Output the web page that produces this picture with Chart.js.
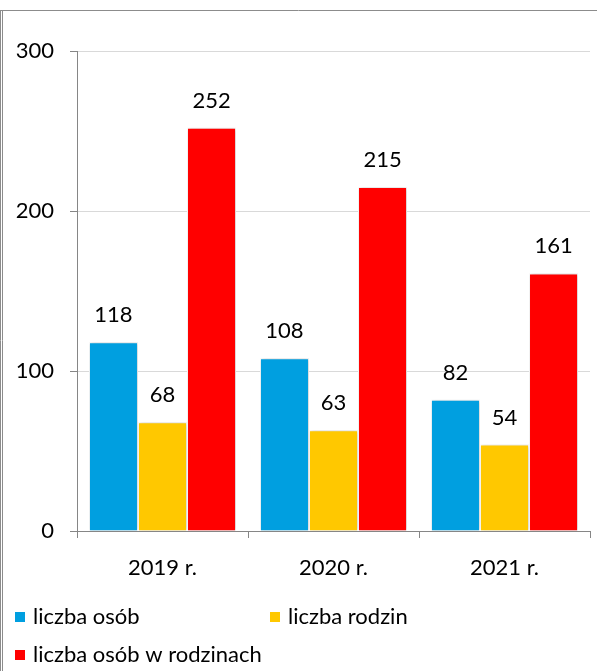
<!DOCTYPE html>
<html>
<head>
<meta charset="utf-8">
<title>Liczba osób i rodzin</title>
<script src="https://cdn.jsdelivr.net/npm/chart.js@4.4.1/dist/chart.umd.min.js"></script>
<style>
  html, body { margin: 0; padding: 0; background: #fff; }
  #wrap { width: 597px; height: 671px; }
</style>
</head>
<body>
<div id="wrap"><canvas id="myChart" width="597" height="671"></canvas></div>
<script>
// data
const years = ['2019 r.', '2020 r.', '2021 r.'];
const osoby = [118, 108, 82];
const rodziny = [68, 63, 54];
const osobyWRodzinach = [252, 215, 161];
const seriesNames = ['liczba osób', 'liczba rodzin', 'liczba osób w rodzinach'];
const colors = ['#009fe0', '#ffc800', '#ff0000'];
const yTicks = [0, 100, 200, 300];

const FONT = 'Lato, "Open Sans", sans-serif';
const FS = 22;

// frame around the picture
const framePlugin = {
  id: 'frame',
  beforeDraw(chart) {
    const c = chart.ctx;
    c.save();
    c.fillStyle = '#fff';
    c.fillRect(0, 0, chart.width, chart.height);
    c.strokeStyle = '#8c8c8c';
    c.lineWidth = 1;
    c.beginPath();
    c.moveTo(0.5, 10); c.lineTo(0.5, chart.height);
    c.moveTo(2.5, 10); c.lineTo(2.5, chart.height);
    c.moveTo(0, 10.5); c.lineTo(chart.width, 10.5);
    c.stroke();
    c.restore();
  }
};

// soft shadow under the bars
const shadowPlugin = {
  id: 'barShadow',
  beforeDatasetsDraw(chart) {
    const c = chart.ctx;
    c.save();
    c.shadowColor = 'rgba(0,0,0,0.22)';
    c.shadowBlur = 4;
    c.shadowOffsetX = 1;
    c.shadowOffsetY = 0;
  },
  afterDatasetsDraw(chart) {
    chart.ctx.restore();
  }
};

// value labels above bars
const valuePlugin = {
  id: 'values',
  afterDatasetsDraw(chart) {
    const c = chart.ctx;
    c.save();
    c.shadowColor = 'transparent';
    c.font = FS + 'px ' + FONT;
    c.fillStyle = '#000';
    c.textAlign = 'center';
    c.textBaseline = 'middle';
    chart.data.datasets.forEach((ds, i) => {
      chart.getDatasetMeta(i).data.forEach((bar, j) => {
        c.fillText(ds.data[j], bar.x, bar.y - 27);
      });
    });
    c.restore();
  }
};

// legend in two columns at the bottom
const legendPlugin = {
  id: 'bottomLegend',
  afterDraw(chart) {
    const c = chart.ctx;
    const pos = [[15, 617], [270, 617], [15, 655]];
    c.save();
    c.font = FS + 'px ' + FONT;
    c.textBaseline = 'middle';
    c.textAlign = 'left';
    seriesNames.forEach((name, i) => {
      const [x, y] = pos[i];
      c.fillStyle = colors[i];
      c.fillRect(x, y - 5, 10, 10);
      c.fillStyle = '#000';
      c.fillText(name, x + 18, y);
    });
    c.restore();
  }
};

const data = {
  labels: years,
  datasets: [osoby, rodziny, osobyWRodzinach].map((vals, i) => ({
    label: seriesNames[i],
    data: vals,
    backgroundColor: colors[i],
    borderColor: '#ffffff',
    borderWidth: 1,
    barPercentage: 1,
    categoryPercentage: 0.86
  }))
};

const config = {
  type: 'bar',
  data,
  options: {
    responsive: false,
    animation: false,
    layout: { padding: { left: 0, top: 51, right: 7, bottom: 0 } },
    plugins: {
      legend: { display: false },
      tooltip: { enabled: false }
    },
    scales: {
      x: {
        border: { color: '#868686', width: 1 },
        grid: { display: true, drawOnChartArea: false, offset: true, tickLength: 7, color: '#868686' },
        ticks: { color: '#000', font: { family: FONT, size: FS }, padding: 17 },
        afterFit(scale) { scale.height = 140; }
      },
      y: {
        min: 0,
        max: 300,
        afterBuildTicks(scale) { scale.ticks = yTicks.map(v => ({ value: v })); },
        border: { color: '#868686', width: 1 },
        grid: { color: '#d9d9d9', tickColor: '#868686', tickLength: 7 },
        ticks: { color: '#000', font: { family: FONT, size: FS }, padding: 16 },
        afterFit(scale) { scale.width = 77; }
      }
    }
  },
  plugins: [framePlugin, shadowPlugin, valuePlugin, legendPlugin]
};

const myChart = new Chart(document.getElementById('myChart'), config);
</script>
</body>
</html>
